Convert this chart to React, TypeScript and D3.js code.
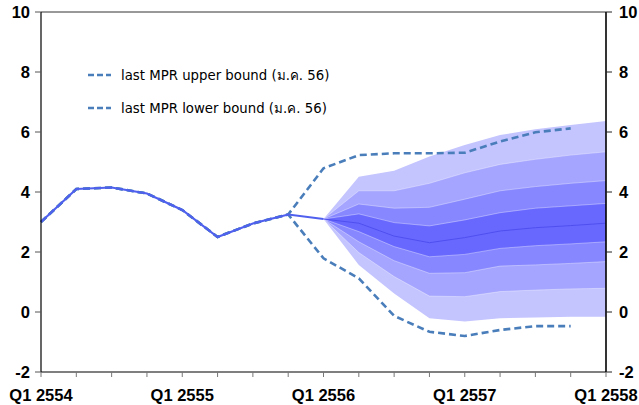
import React from "react";
import * as d3 from "d3";

const W = 639;
const H = 405;

const yTicks = [-2, 0, 2, 4, 6, 8, 10];
const xLabels = ["Q1 2554", "Q1 2555", "Q1 2556", "Q1 2557", "Q1 2558"];
const xLabelIdx = [0, 4, 8, 12, 16];
const nQuarters = 16;

// actual path, quarters 0..8
const history = [3.0, 4.1, 4.15, 3.95, 3.4, 2.5, 2.95, 3.25, 3.1];

// fan chart boundaries, quarters 8..16
const fanStart = 8;
const outerHigh = [3.1, 4.51, 4.71, 5.18, 5.57, 5.9, 6.09, 6.23, 6.37];
const midHigh = [3.1, 4.04, 4.04, 4.29, 4.64, 4.92, 5.09, 5.23, 5.34];
const innerHigh = [3.1, 3.6, 3.46, 3.49, 3.76, 4.04, 4.18, 4.29, 4.38];
const coreHigh = [3.1, 3.27, 2.98, 2.87, 3.07, 3.31, 3.46, 3.54, 3.62];
const median = [3.1, 2.96, 2.53, 2.31, 2.48, 2.7, 2.81, 2.88, 2.96];
const coreLow = [3.1, 2.68, 2.18, 1.84, 1.92, 2.12, 2.21, 2.27, 2.34];
const innerLow = [3.1, 2.34, 1.71, 1.29, 1.31, 1.53, 1.57, 1.62, 1.68];
const midLow = [3.1, 1.98, 1.18, 0.53, 0.51, 0.68, 0.73, 0.77, 0.79];
const outerLow = [3.1, 1.57, 0.62, -0.21, -0.32, -0.21, -0.18, -0.16, -0.16];

// last MPR bounds, quarters 7..15 (joined to history before)
const boundStart = 7;
const lastUpper = [3.25, 4.79, 5.23, 5.29, 5.29, 5.31, 5.68, 5.99, 6.12];
const lastLower = [3.25, 1.79, 1.12, -0.13, -0.66, -0.8, -0.6, -0.47, -0.47];

const legendLabels = [
  "last MPR upper bound (ม.ค. 56)",
  "last MPR lower bound (ม.ค. 56)",
];

const bandColors = ["#c4c4ff", "#a5a5ff", "#8787ff", "#6868ff"];

export default function App() {
  const left = 41;
  const right = 606;
  const top = 12;
  const bottom = 372;
  const x = d3.scaleLinear().domain([0, nQuarters]).range([left, right]);
  const y = d3.scaleLinear().domain([-2, 10]).range([bottom, top]);

  const area = d3
    .area<[number, number, number]>()
    .x((d) => x(d[0]))
    .y0((d) => y(d[1]))
    .y1((d) => y(d[2]));

  const band = (lo: number[], hi: number[]) =>
    area(lo.map((v, i) => [fanStart + i, v, hi[i]] as [number, number, number])) || "";

  const line = d3
    .line<[number, number]>()
    .x((d) => x(d[0]))
    .y((d) => y(d[1]));

  const histPts = history.map((v, i) => [i, v] as [number, number]);
  const histBefore = history.slice(0, boundStart).map((v, i) => [i, v] as [number, number]);
  const upperPts = histBefore.concat(lastUpper.map((v, i) => [boundStart + i, v] as [number, number]));
  const lowerPts = histBefore.concat(lastLower.map((v, i) => [boundStart + i, v] as [number, number]));
  const medPts = median.map((v, i) => [fanStart + i, v] as [number, number]);

  const bands = [
    { lo: outerLow, hi: outerHigh, c: bandColors[0] },
    { lo: midLow, hi: midHigh, c: bandColors[1] },
    { lo: innerLow, hi: innerHigh, c: bandColors[2] },
    { lo: coreLow, hi: coreHigh, c: bandColors[3] },
  ];
  const edges = [midHigh, innerHigh, coreHigh, coreLow, innerLow, midLow];

  const axisFont = "'Liberation Sans', Arial, sans-serif";
  const dashColor = "#4a7ebb";

  return (
    <svg
      width={W}
      height={H}
      style={{ position: "absolute", left: 0, top: 0, background: "#fff" }}
    >
      {bands.map((b, i) => (
        <path key={i} d={band(b.lo, b.hi)} fill={b.c} stroke="none" />
      ))}
      {edges.map((e, i) => (
        <path
          key={"e" + i}
          d={line(e.map((v, j) => [fanStart + j, v] as [number, number])) || ""}
          fill="none"
          stroke="#ffffff"
          strokeOpacity={0.45}
          strokeWidth={0.8}
        />
      ))}
      <path d={line(medPts) || ""} fill="none" stroke="#4f4ff0" strokeWidth={1} />

      <path
        d={line(upperPts) || ""}
        fill="none"
        stroke={dashColor}
        strokeWidth={2.6}
        strokeDasharray="7,4"
      />
      <path
        d={line(lowerPts) || ""}
        fill="none"
        stroke={dashColor}
        strokeWidth={2.6}
        strokeDasharray="7,4"
      />
      <path d={line(histPts) || ""} fill="none" stroke="#5060ee" strokeWidth={2.2} />

      {/* frame */}
      <line x1={left} x2={right} y1={top} y2={top} stroke="#333" strokeWidth={1} />
      <line x1={left} x2={right} y1={bottom} y2={bottom} stroke="#000" strokeWidth={1.2} />
      <line x1={left} x2={left} y1={top} y2={bottom} stroke="#000" strokeWidth={1.2} />
      <line x1={right} x2={right} y1={top} y2={bottom} stroke="#000" strokeWidth={1.6} />

      {yTicks.map((t) => (
        <g key={"y" + t}>
          <line x1={left - 6} x2={left} y1={y(t)} y2={y(t)} stroke="#555" />
          <line x1={right} x2={right + 6} y1={y(t)} y2={y(t)} stroke="#222" />
          <text
            x={30}
            y={y(t)}
            dy="0.36em"
            textAnchor="end"
            fontFamily={axisFont}
            fontWeight="bold"
            fontSize={16.5}
          >
            {t}
          </text>
          <text
            x={619}
            y={y(t)}
            dy="0.36em"
            textAnchor="start"
            fontFamily={axisFont}
            fontWeight="bold"
            fontSize={16.5}
          >
            {t}
          </text>
        </g>
      ))}
      {d3.range(0, nQuarters + 1).map((q) => (
        <line
          key={"xt" + q}
          x1={x(q)}
          x2={x(q)}
          y1={bottom}
          y2={bottom + 5}
          stroke="#777"
        />
      ))}
      {xLabels.map((l, i) => (
        <text
          key={l}
          x={x(xLabelIdx[i])}
          y={401}
          textAnchor="middle"
          fontFamily={axisFont}
          fontWeight="bold"
          fontSize={16.5}
        >
          {l}
        </text>
      ))}

      {legendLabels.map((l, i) => (
        <g key={"lg" + i}>
          <line
            x1={88}
            x2={111}
            y1={75 + i * 33}
            y2={75 + i * 33}
            stroke={dashColor}
            strokeWidth={2.5}
            strokeDasharray="6,3"
          />
          <text
            x={121}
            y={75 + i * 33}
            dy="0.35em"
            fontFamily="Tahoma, 'DejaVu Sans', 'Noto Sans', sans-serif"
            fontSize={13.3}
            fill="#000"
          >
            {l}
          </text>
        </g>
      ))}
    </svg>
  );
}
